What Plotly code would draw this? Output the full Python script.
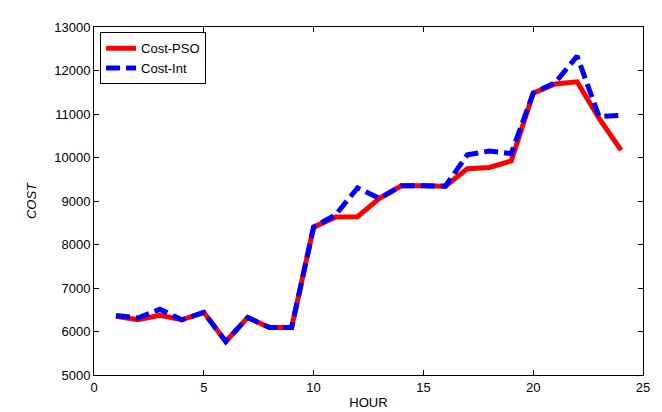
import plotly.graph_objects as go

hours = list(range(1, 25))
cost_pso = [6350, 6270, 6370, 6270, 6440, 5770, 6320, 6090, 6090, 8400, 8630, 8640,
            9060, 9350, 9350, 9340, 9740, 9770, 9920, 11480, 11690, 11740, 10900, 10170]
cost_int = [6370, 6310, 6510, 6270, 6440, 5770, 6320, 6090, 6090, 8400, 8680, 9300,
            9060, 9350, 9350, 9340, 10060, 10150, 10090, 11480, 11720, 12330, 10940, 10970]
x_ticks = [0, 5, 10, 15, 20, 25]
y_ticks = [5000, 6000, 7000, 8000, 9000, 10000, 11000, 12000, 13000]

fig = go.Figure()
fig.add_trace(go.Scatter(x=hours, y=cost_pso, mode="lines", name="Cost-PSO",
                         line=dict(color="#FF0000", width=5)))
fig.add_trace(go.Scatter(x=hours, y=cost_int, mode="lines", name="Cost-Int",
                         line=dict(color="#0000FF", width=5, dash="14px,6px")))

axis_common = dict(showgrid=False, zeroline=False, showline=True, linecolor="black",
                   linewidth=1, mirror="ticks", ticks="inside", ticklen=5,
                   tickcolor="black", tickfont=dict(size=13, color="black"))
fig.update_xaxes(range=[0, 25], tickvals=x_ticks, tickformat="d",
                 title=dict(text="HOUR", standoff=4, font=dict(size=13, color="black")),
                 **axis_common)
fig.update_yaxes(range=[5000, 13000], tickvals=y_ticks, tickformat="d",
                 title=dict(text="<i>COST</i>", standoff=14, font=dict(size=13, color="black")),
                 **axis_common)

fig.update_layout(
    width=662, height=412,
    margin=dict(l=86, r=27, t=16, b=35),
    paper_bgcolor="white", plot_bgcolor="white",
    font=dict(family="Liberation Sans, Arial, sans-serif", size=13, color="black"),
    showlegend=True,
    legend=dict(x=0.011, y=0.985, xanchor="left", yanchor="top",
                bordercolor="black", borderwidth=1, bgcolor="white",
                font=dict(size=13), tracegroupgap=0, itemwidth=30,
                entrywidth=100),
)
fig.write_html("out.html")
